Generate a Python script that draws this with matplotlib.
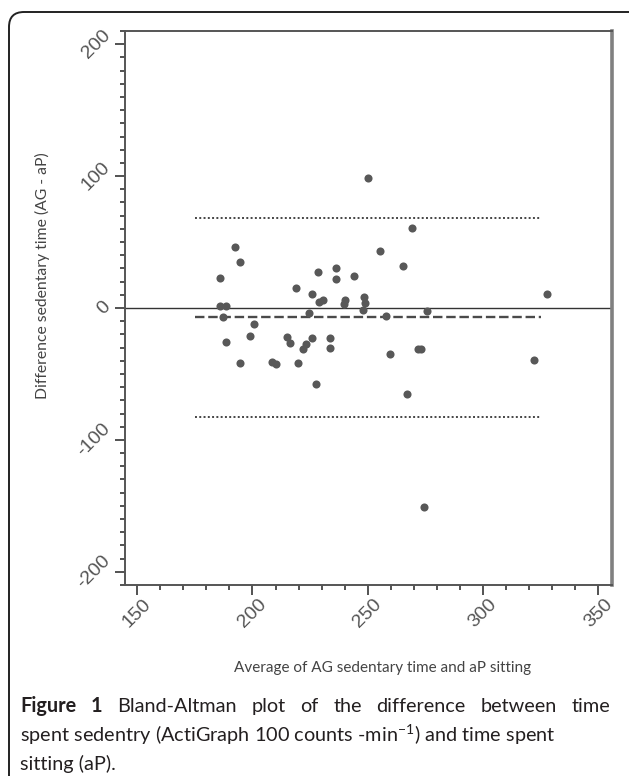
import numpy as np
import matplotlib.pyplot as plt
from matplotlib.patches import FancyBboxPatch
from matplotlib.ticker import MultipleLocator

plt.rcParams["axes.unicode_minus"] = False

#
# Data
#
avg_minutes = [
    186.1, 186.1, 188.7, 187.0, 188.7, 192.3, 194.6, 194.5, 198.9, 200.8,
    208.6, 210.1, 214.8, 216.3, 219.0, 219.6, 221.9, 223.0, 224.6, 225.8,
    225.9, 227.6, 228.3, 228.8, 230.5, 233.4, 233.4, 236.1, 236.1, 240.3,
    239.9, 244.2, 248.2, 248.8, 247.8, 250.3, 255.1, 258.1, 259.8, 265.3,
    267.1, 269.0, 271.8, 273.3, 274.2, 275.7, 322.2, 327.9,
]
diff_minutes = [
    22.5, 1.2, 1.2, -7.1, -26.1, 46.3, 34.9, -42.0, -21.0, -12.4,
    -40.8, -42.3, -22.3, -26.3, 15.4, -42.0, -31.1, -27.0, -3.8, 10.9,
    -22.8, -57.5, 27.6, 4.6, 6.3, -22.5, -30.4, 30.4, 22.0, 6.3,
    3.3, 24.0, 8.6, 3.5, -1.5, 98.4, 43.3, -5.7, -34.6, 31.9,
    -65.3, 61.0, -31.4, -31.4, -151.1, -2.1, -39.3, 10.8,
]
mean_diff = -6.8
upper_loa = 68.3
lower_loa = -82.3
line_span = [175, 325]

x_label = "Average of AG sedentary time and aP sitting"
y_label = "Difference sedentary time (AG - aP)"
caption_line1 = ["Figure", "1", "Bland-Altman", "plot", "of", "the",
                 "difference", "between", "time"]
caption_line2 = "spent sedentry (ActiGraph 100 counts -min$^{\\mathregular{-1}}$) and time spent"
caption_line3 = "sitting (aP)."

#
# Figure
#
fig = plt.figure(figsize=(6.29, 7.76), dpi=100)
ax = fig.add_axes([125 / 629, 1 - 585 / 776, 486.7 / 629, 554 / 776])

ax.scatter(avg_minutes, diff_minutes, s=34, color="#585858", zorder=3, linewidths=0)
ax.axhline(0, color="#333333", lw=1.0, zorder=2)
ax.plot(line_span, [mean_diff, mean_diff], color="#4a4a4a", lw=1.7,
        linestyle=(0, (4, 1.6)), zorder=2)
for lim in (upper_loa, lower_loa):
    ax.plot(line_span, [lim, lim], color="#444444", lw=1.4,
            linestyle=(0, (1, 1.2)), zorder=2)

ax.set_xlim(144.7, 355.8)
ax.set_ylim(-210, 210)
ax.xaxis.set_major_locator(MultipleLocator(50))
ax.xaxis.set_minor_locator(MultipleLocator(10))
ax.yaxis.set_major_locator(MultipleLocator(100))
ax.yaxis.set_minor_locator(MultipleLocator(10))

for side in ["left", "bottom", "top"]:
    ax.spines[side].set_color("#555555")
    ax.spines[side].set_linewidth(1.4)
ax.spines["right"].set_color("#808080")
ax.spines["right"].set_linewidth(2.6)

ax.tick_params(which="major", length=7, width=1.3, color="#444444",
               labelcolor="#555555", labelsize=14, labelrotation=45, pad=1)
ax.tick_params(which="minor", length=3.8, width=1.3, color="#444444")
plt.setp(ax.get_xticklabels(), ha="center", va="top", family="Liberation Sans")
plt.setp(ax.get_yticklabels(), ha="right", va="center", family="Liberation Sans")

fig.text(42 / 629, 1 - 276 / 776, y_label, rotation=90, ha="center",
         va="center", fontsize=11.3, color="#444444", family="Lato")
fig.text(383 / 629, 1 - 668 / 776, x_label, ha="center", va="center",
         fontsize=11, color="#444444", family="Lato")

# caption, first line justified to the full width
cap_left, cap_right = 20, 610
cap_size = 14.3
renderer = fig.canvas.get_renderer()
y1 = 1 - 712 / 776
words = []
for i, w in enumerate(caption_line1):
    bold = i < 2
    words.append(fig.text(0, y1, w, ha="left", va="baseline", fontsize=cap_size,
                          fontweight="bold" if bold else "normal",
                          color="#231f20", family="Lato"))
widths = [w.get_window_extent(renderer).width for w in words]
gap = (cap_right - cap_left - sum(widths)) / (len(words) - 1)
x = cap_left
for w, wd in zip(words, widths):
    w.set_x(x / 629)
    x += wd + gap

fig.text(cap_left / 629, 1 - 742 / 776, caption_line2, ha="left", va="baseline",
         fontsize=cap_size, color="#231f20", family="Lato")
fig.text(cap_left / 629, 1 - 770 / 776, caption_line3, ha="left", va="baseline",
         fontsize=cap_size, color="#231f20", family="Lato")

# rounded frame round the whole figure
frame = FancyBboxPatch((0.09, -0.3), 6.4, 7.94,
                       boxstyle="round,pad=0,rounding_size=0.15",
                       transform=fig.dpi_scale_trans, fill=False,
                       edgecolor="#222222", lw=1.4)
fig.patches.append(frame)

fig.savefig("out.png", dpi=100)
